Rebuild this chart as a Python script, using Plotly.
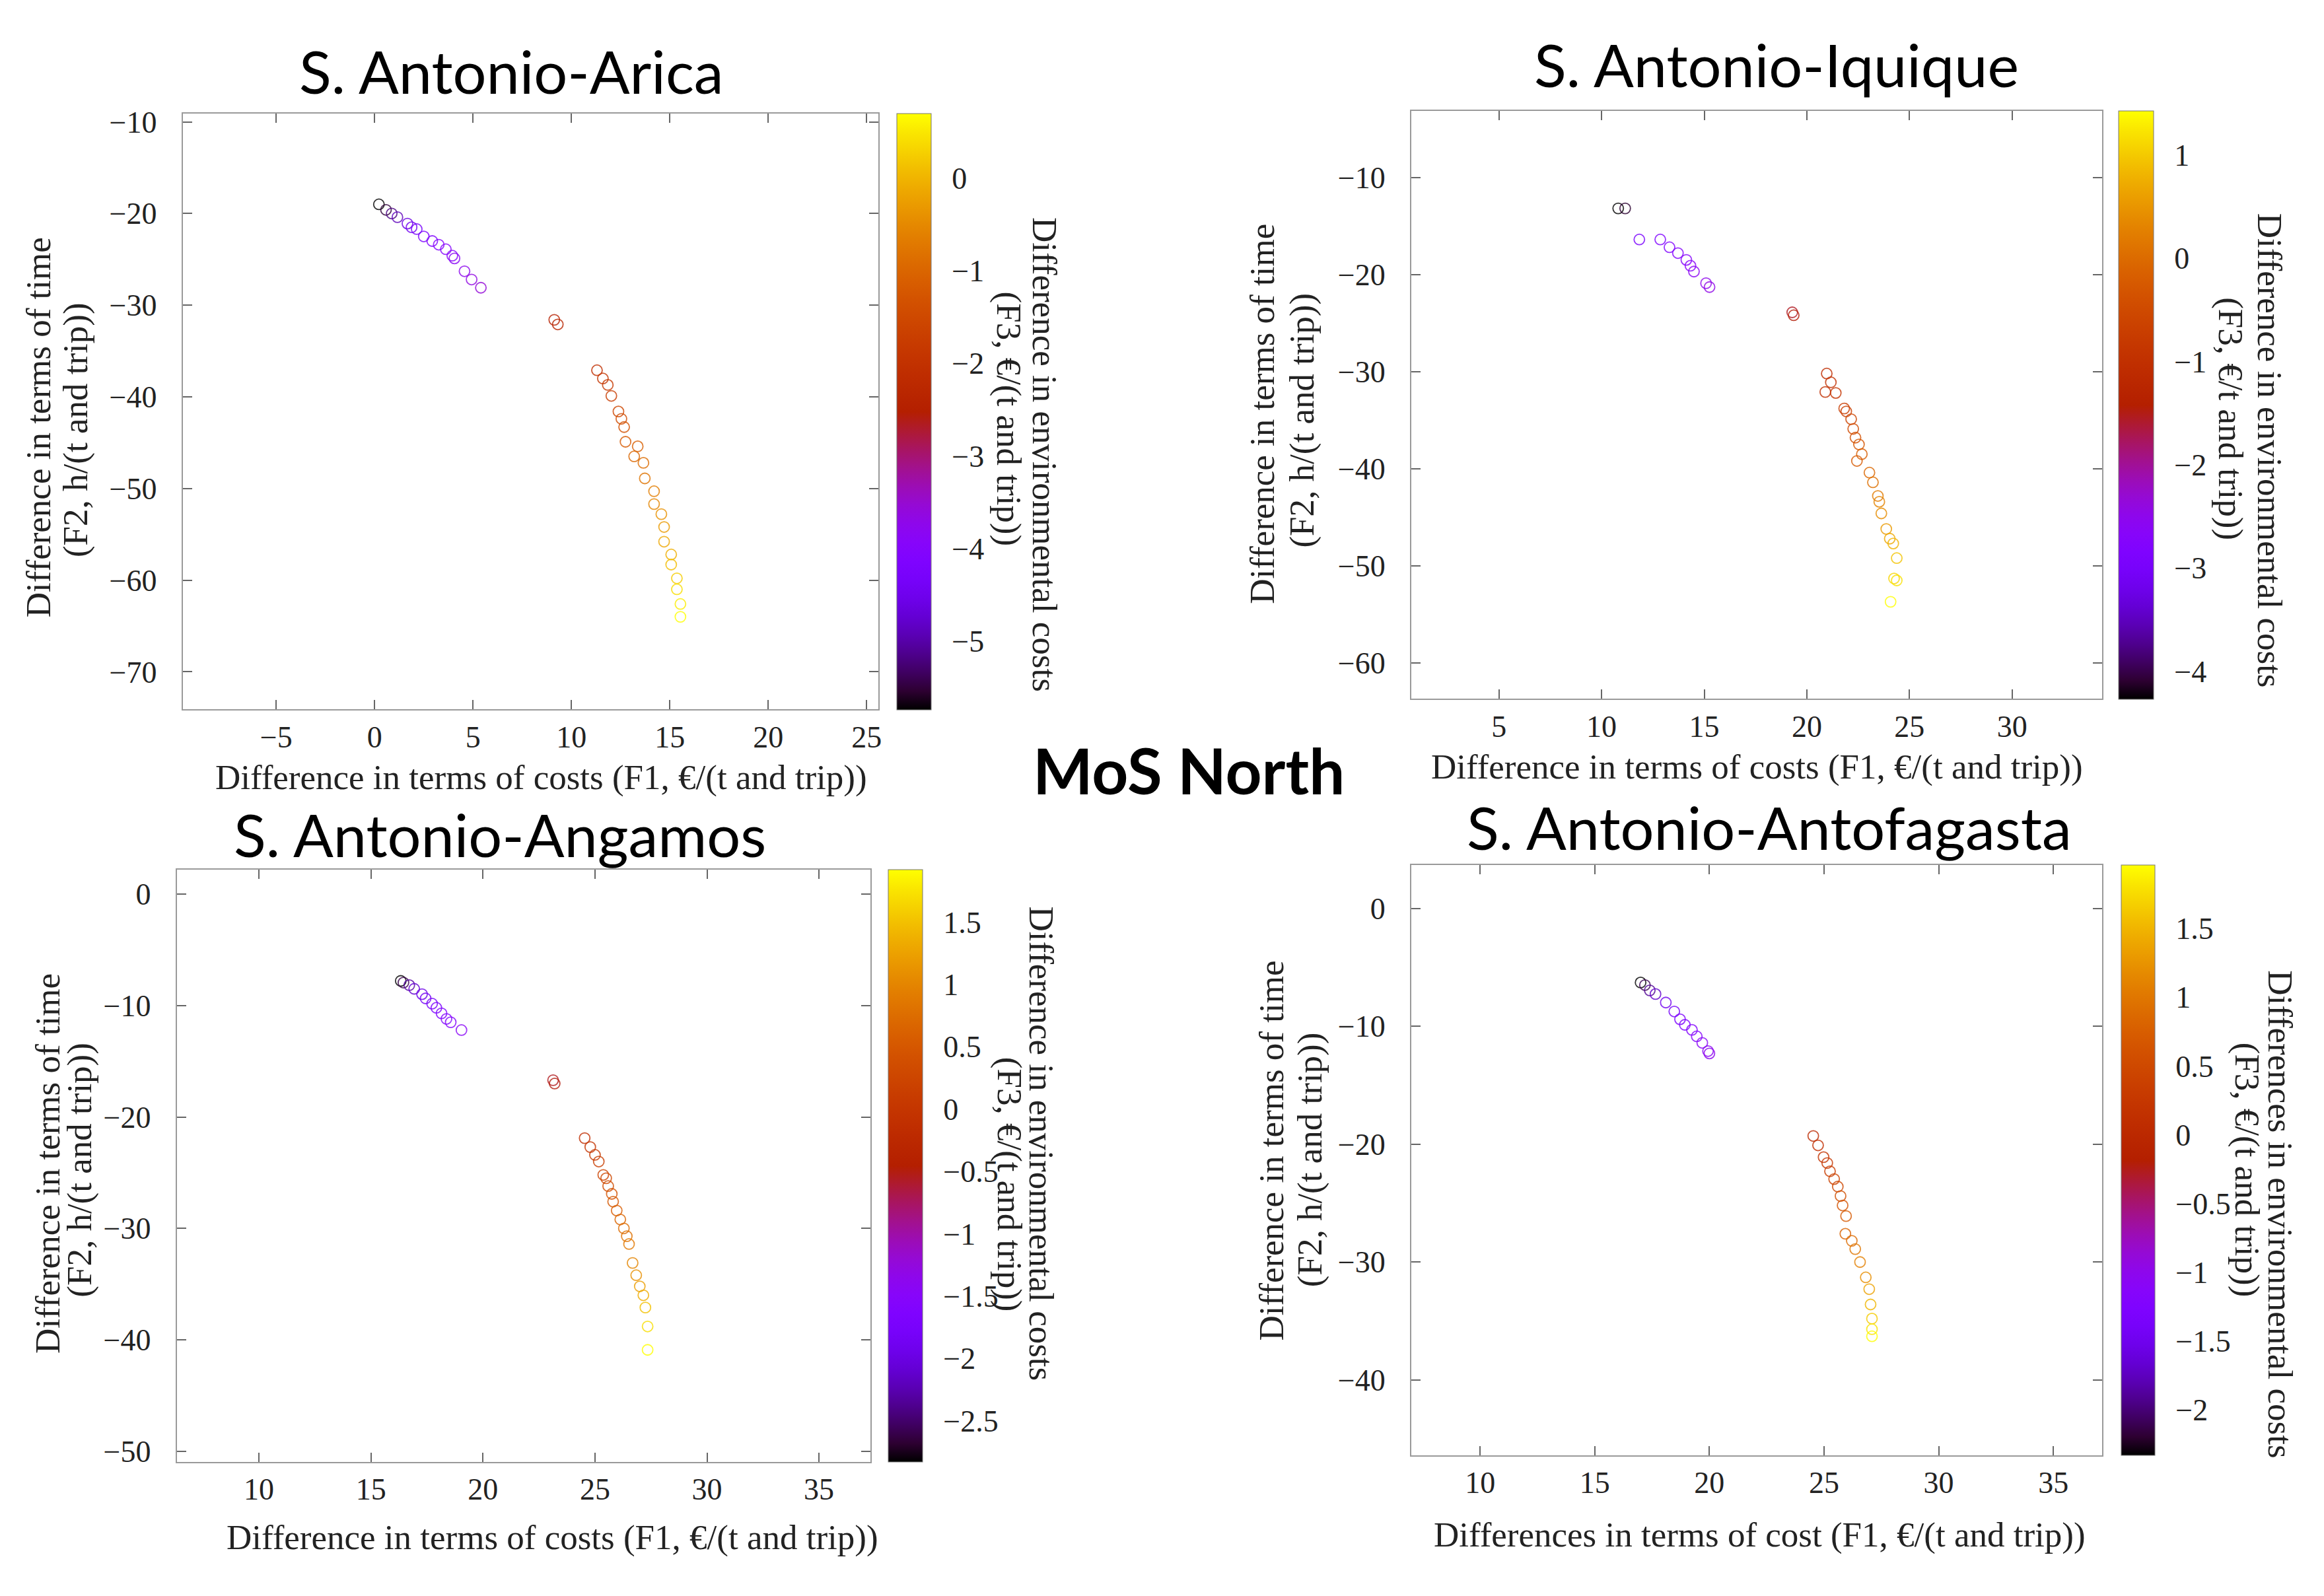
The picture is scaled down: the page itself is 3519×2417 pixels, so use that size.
import math
import plotly.graph_objects as go

W, H = 3519, 2417

# ---------------- data ----------------
arica_x = [0.22, 0.58, 0.87, 1.16, 1.67, 1.88, 2.14, 2.5, 2.93, 3.26, 3.62, 3.95, 4.06, 4.57, 4.93, 5.4,
           9.13, 9.31,
           11.3, 11.6, 11.85, 12.03, 12.39, 12.54, 12.68, 12.75, 13.37, 13.19, 13.66, 13.73, 14.2, 14.2,
           14.57, 14.71, 14.71, 15.07, 15.07, 15.36, 15.36, 15.54, 15.54]
arica_y = [-19.0, -19.6, -20.0, -20.4, -21.1, -21.5, -21.7, -22.5, -23.0, -23.4, -23.9, -24.6, -24.9, -26.3, -27.2, -28.1,
           -31.6, -32.1,
           -37.1, -38.0, -38.7, -39.9, -41.6, -42.4, -43.3, -44.9, -45.4, -46.5, -47.2, -48.9, -50.3, -51.7,
           -52.8, -54.2, -55.8, -57.2, -58.3, -59.8, -61.0, -62.6, -64.0]
arica_z = [-5.74, -5.5, -5.2, -4.9, -4.6, -4.45, -4.3, -4.2, -4.1, -4.0, -3.95, -3.9, -3.85, -3.75, -3.65, -3.55,
           -2.45, -2.35,
           -2.1, -1.95, -1.85, -1.75, -1.55, -1.45, -1.35, -1.2, -1.1, -1.0, -0.9, -0.8, -0.65, -0.55,
           -0.4, -0.3, -0.15, -0.05, 0.1, 0.25, 0.4, 0.55, 0.70]

iquique_x = [10.81, 11.15, 11.84, 12.86, 13.31, 13.72, 14.13, 14.33, 14.5, 15.09, 15.26,
             19.29, 19.36,
             20.97, 21.17, 20.9, 21.41, 21.82, 21.92, 22.16, 22.26, 22.37, 22.54, 22.68, 22.44,
             23.05, 23.22, 23.46, 23.53, 23.63, 23.87, 24.04, 24.21, 24.38, 24.25, 24.38, 24.08]
iquique_y = [-13.2, -13.2, -16.4, -16.4, -17.2, -17.8, -18.5, -19.1, -19.7, -20.9, -21.3,
             -23.9, -24.2,
             -30.2, -31.1, -32.1, -32.2, -33.8, -34.1, -34.9, -35.9, -36.8, -37.5, -38.5, -39.2,
             -40.4, -41.4, -42.8, -43.4, -44.6, -46.2, -47.2, -47.7, -49.2, -51.3, -51.5, -53.7]
iquique_z = [-4.27, -4.1, -2.95, -2.85, -2.8, -2.75, -2.7, -2.65, -2.6, -2.5, -2.45,
             -1.55, -1.45,
             -1.1, -1.0, -1.05, -0.9, -0.75, -0.7, -0.6, -0.5, -0.4, -0.3, -0.2, -0.25,
             -0.05, 0.05, 0.2, 0.3, 0.4, 0.55, 0.7, 0.8, 0.95, 1.1, 1.2, 1.43]

angamos_x = [16.33, 16.45, 16.71, 16.93, 17.28, 17.44, 17.73, 17.92, 18.15, 18.37, 18.56, 19.04,
             23.13, 23.2,
             24.54, 24.79, 25.0, 25.17, 25.37, 25.5, 25.59, 25.75, 25.81, 25.97, 26.13, 26.29,
             26.42, 26.52, 26.68, 26.84, 27.0, 27.16, 27.25, 27.35, 27.35]
angamos_y = [-7.79, -7.94, -8.17, -8.5, -8.98, -9.36, -9.83, -10.2, -10.7, -11.2, -11.5, -12.2,
             -16.7, -17.0,
             -21.9, -22.7, -23.4, -24.0, -25.2, -25.5, -26.2, -26.9, -27.6, -28.4, -29.2, -30.0,
             -30.7, -31.4, -33.1, -34.2, -35.2, -36.0, -37.1, -38.8, -40.9]
angamos_z = [-2.83, -2.6, -2.3, -2.1, -1.95, -1.85, -1.75, -1.7, -1.65, -1.6, -1.55, -1.45,
             -0.55, -0.5,
             -0.15, -0.05, 0.05, 0.12, 0.2, 0.27, 0.35, 0.42, 0.5, 0.57, 0.65, 0.72,
             0.8, 0.87, 1.0, 1.1, 1.22, 1.35, 1.5, 1.7, 1.92]

antof_x = [17.0, 17.19, 17.4, 17.65, 18.1, 18.47, 18.72, 18.93, 19.24, 19.45, 19.69, 19.94, 20.0,
           24.53, 24.74, 24.98, 25.14, 25.26, 25.44, 25.6, 25.72, 25.81, 25.96, 25.93, 26.21,
           26.36, 26.57, 26.82, 26.97, 27.03, 27.09, 27.09, 27.09]
antof_y = [-6.28, -6.5, -6.95, -7.26, -7.98, -8.74, -9.4, -9.87, -10.3, -10.85, -11.4, -12.1, -12.3,
           -19.3, -20.1, -21.1, -21.6, -22.3, -22.96, -23.6, -24.4, -25.2, -26.1, -27.6, -28.2,
           -28.9, -30.0, -31.3, -32.3, -33.6, -34.8, -35.7, -36.3]
antof_z = [-2.33, -2.1, -1.9, -1.7, -1.5, -1.4, -1.3, -1.25, -1.2, -1.15, -1.1, -1.05, -1.0,
           0.0, 0.1, 0.18, 0.25, 0.32, 0.4, 0.47, 0.55, 0.62, 0.7, 0.78, 0.88,
           0.98, 1.08, 1.2, 1.35, 1.5, 1.65, 1.8, 1.96]

titles = ["S. Antonio-Arica", "S. Antonio-Iquique", "S. Antonio-Angamos", "S. Antonio-Antofagasta"]
xtitles = ["Difference in terms of costs (F1, €/(t and trip))",
           "Difference in terms of costs (F1, €/(t and trip))",
           "Difference in terms of costs (F1, €/(t and trip))",
           "Differences in terms of cost (F1, €/(t and trip))"]
ytitle_lines = ["Difference in terms of time", "(F2, h/(t and trip))"]
ctitle_lines = [["Difference in environmental costs", "(F3, €/(t and trip))"],
                ["Difference in environmental costs", "(F3, €/t and trip))"],
                ["Difference in environmental costs", "(F3, €/(t and trip))"],
                ["Differences in environmental costs", "(F3, €/(t and trip))"]]
main_title = "MoS North"

# ---------------- style / layout ----------------
# gnuplot default palette (rgbformulae 7,5,15)
cs = []
N = 32
for i in range(N + 1):
    t = i / N
    r = math.sqrt(t)
    g = t ** 3
    b = max(0.0, math.sin(2 * math.pi * t))
    cs.append([t, f"rgb({int(r*255)},{int(g*255)},{int(b*255)})"])

panels = [
    dict(x=arica_x, y=arica_y, z=arica_z, box=(269, 1324, 153, 1064), cb=(1352, 1404),
         xr=[-9.75, 25.6], yr=[-74.1, -9.07], cr=[-5.74, 0.70], cd=1,
         title_xy=(768, 88), xt_xy=(813, 1168),
         yt=[(50, 633), (106, 637)], ct=[(1576, 675), (1522, 620)]),
    dict(x=iquique_x, y=iquique_y, z=iquique_z, box=(2132, 3180, 149, 1048), cb=(3205, 3258),
         xr=[0.73, 34.4], yr=[-63.7, -3.14], cr=[-4.27, 1.43], cd=1,
         title_xy=(2686, 78), xt_xy=(2656, 1152),
         yt=[(1906, 612), (1966, 622)], ct=[(3434, 668), (3374, 620)]),
    dict(x=angamos_x, y=angamos_y, z=angamos_z, box=(260, 1312, 1309, 2214), cb=(1339, 1391),
         xr=[6.33, 37.3], yr=[-50.95, 2.19], cr=[-2.83, 1.92], cd=0.5,
         title_xy=(750, 1254), xt_xy=(830, 2330),
         yt=[(64, 1758), (113, 1768)], ct=[(1571, 1728), (1522, 1790)]),
    dict(x=antof_x, y=antof_y, z=antof_z, box=(2132, 3180, 1302, 2204), cb=(3209, 3260),
         xr=[7.0, 37.14], yr=[-46.4, 3.68], cr=[-2.33, 1.96], cd=0.5,
         title_xy=(2675, 1243), xt_xy=(2660, 2326),
         yt=[(1920, 1738), (1978, 1752)], ct=[(3450, 1835), (3399, 1768)]),
]

serif = "Liberation Serif"
sans = "Lato"
txt_col = "#222222"
tick_size = 46
label_size = 53
title_size = 90


def pap(px, py):
    return px / W, 1 - py / H


fig = go.Figure()
layout = dict(width=W, height=H, margin=dict(l=0, r=0, t=0, b=0),
              paper_bgcolor="white", plot_bgcolor="white", showlegend=False)
annotations = []

for i, p in enumerate(panels):
    n = "" if i == 0 else str(i + 1)
    l, r, t, b = p["box"]
    xd = [l / W, r / W]
    yd = [1 - b / H, 1 - t / H]
    axis_common = dict(showgrid=False, zeroline=False, showline=True, linecolor="#9a9a9a",
                       linewidth=2, mirror="ticks", ticks="inside", ticklen=14, tickwidth=2,
                       tickcolor="#666666",
                       tickfont=dict(family=serif, size=tick_size, color=txt_col))
    layout["xaxis" + n] = dict(domain=xd, range=p["xr"], dtick=5, tick0=0,
                               anchor="y" + n, ticklabelstandoff=0, **axis_common)
    layout["yaxis" + n] = dict(domain=yd, range=p["yr"], dtick=10, tick0=0,
                               anchor="x" + n, ticklabelstandoff=28, **axis_common)
    cbl, cbr = p["cb"]
    fig.add_trace(go.Scatter(
        x=p["x"], y=p["y"], mode="markers", xaxis="x" + n, yaxis="y" + n,
        marker=dict(symbol="circle-open", size=16, color=p["z"], colorscale=cs,
                    cmin=p["cr"][0], cmax=p["cr"][1], opacity=0.8,
                    line=dict(width=1.8),
                    colorbar=dict(x=cbl / W, xanchor="left", xpad=0, ypad=0,
                                  y=1 - t / H, yanchor="top", len=(b - t) / H, lenmode="fraction",
                                  thickness=cbr - cbl, outlinewidth=1, outlinecolor="#777777",
                                  ticks="outside", ticklen=22, tickcolor="rgba(0,0,0,0)",
                                  dtick=p["cd"], tick0=0,
                                  tickfont=dict(family=serif, size=tick_size, color=txt_col)))))
    tx, ty = pap(*p["title_xy"])
    annotations.append(dict(text=titles[i], x=tx, y=ty, xref="paper", yref="paper",
                            showarrow=False, xanchor="center", yanchor="middle",
                            font=dict(family=sans, size=title_size, color="black")))
    ax, ay = pap(*p["xt_xy"])
    annotations.append(dict(text=xtitles[i], x=ax, y=ay, xref="paper", yref="paper",
                            showarrow=False, xanchor="center", yanchor="middle",
                            font=dict(family=serif, size=label_size, color=txt_col)))
    for line, pos in zip(ytitle_lines, p["yt"]):
        lx, ly = pap(*pos)
        annotations.append(dict(text=line, x=lx, y=ly, xref="paper", yref="paper",
                                showarrow=False, xanchor="center", yanchor="middle",
                                textangle=-90,
                                font=dict(family=serif, size=label_size, color=txt_col)))
    for line, pos in zip(ctitle_lines[i], p["ct"]):
        lx, ly = pap(*pos)
        annotations.append(dict(text=line, x=lx, y=ly, xref="paper", yref="paper",
                                showarrow=False, xanchor="center", yanchor="middle",
                                textangle=90,
                                font=dict(family=serif, size=label_size, color=txt_col)))

mx, my = pap(1795, 1156)
annotations.append(dict(text="<b>" + main_title + "</b>", x=mx, y=my,
                        xref="paper", yref="paper", showarrow=False,
                        xanchor="center", yanchor="middle",
                        font=dict(family=sans, size=96, color="black")))
layout["annotations"] = annotations
fig.update_layout(**layout)
fig.write_html("out.html")
